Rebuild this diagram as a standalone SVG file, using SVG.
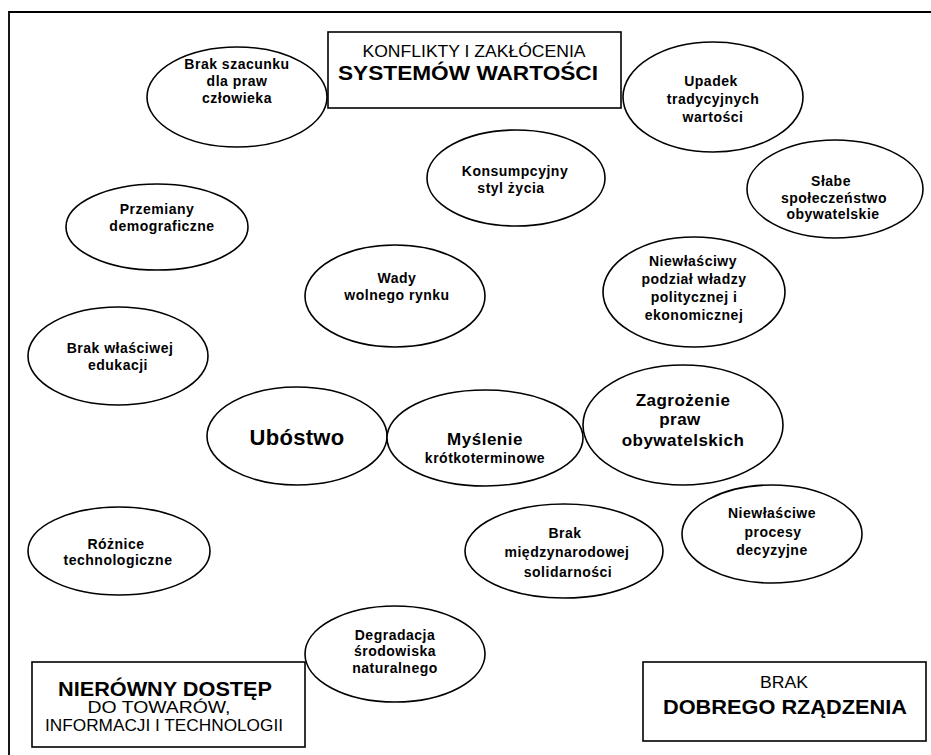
<svg xmlns="http://www.w3.org/2000/svg" width="931" height="755" viewBox="0 0 931 755">
<style>
  .e { fill: #fff; stroke: #000; stroke-width: 1.6; }
  .b { fill: #fff; stroke: #000; stroke-width: 1.6; }
  .t { font-family: "Liberation Sans", Arial, sans-serif; font-weight: bold; font-size: 14px; letter-spacing: 0.5px; text-anchor: middle; fill: #000; }
  .r { font-family: "Liberation Sans", Arial, sans-serif; font-size: 16px; text-anchor: middle; fill: #000; }
  .h { font-family: "Liberation Sans", Arial, sans-serif; font-weight: bold; font-size: 20px; text-anchor: middle; fill: #000; }
</style>
<rect width="931" height="755" fill="#fff"/>
<g id="frame" fill="none" stroke="#000" stroke-width="1.8">
  <path d="M9 755 V12 H931"/>
</g>
<g id="connectors"></g>

<g id="box-konflikty">
  <rect class="b" x="328" y="32" width="293" height="76"/>
  <text class="r" x="474" y="57" textLength="223" lengthAdjust="spacingAndGlyphs">KONFLIKTY I ZAKŁÓCENIA</text>
  <text class="h" x="468" y="80" textLength="260" lengthAdjust="spacingAndGlyphs">SYSTEMÓW WARTOŚCI</text>
</g>
<g id="box-nierowny">
  <rect class="b" x="32" y="662" width="273" height="85"/>
  <text class="h" x="165" y="696" textLength="214" lengthAdjust="spacingAndGlyphs">NIERÓWNY DOSTĘP</text>
  <text class="r" x="159" y="713" textLength="143" lengthAdjust="spacingAndGlyphs">DO TOWARÓW,</text>
  <text class="r" x="164" y="731" textLength="238" lengthAdjust="spacingAndGlyphs">INFORMACJI I TECHNOLOGII</text>
</g>
<g id="box-brak-rzadzenia">
  <rect class="b" x="643" y="662" width="283" height="79"/>
  <text class="r" x="784" y="688" textLength="48" lengthAdjust="spacingAndGlyphs">BRAK</text>
  <text class="h" x="785" y="714" textLength="244" lengthAdjust="spacingAndGlyphs">DOBREGO RZĄDZENIA</text>
</g>

<g id="n-szacunek">
  <ellipse class="e" cx="237" cy="97" rx="90" ry="50"/>
  <text class="t" x="237" y="69">Brak szacunku</text>
  <text class="t" x="237" y="86">dla praw</text>
  <text class="t" x="237" y="103">człowieka</text>
</g>
<g id="n-upadek">
  <ellipse class="e" cx="713" cy="97" rx="90" ry="55"/>
  <text class="t" x="711" y="86">Upadek</text>
  <text class="t" x="713" y="104">tradycyjnych</text>
  <text class="t" x="713" y="122">wartości</text>
</g>
<g id="n-konsumpcyjny">
  <ellipse class="e" cx="516" cy="178" rx="89" ry="48"/>
  <text class="t" x="515" y="176">Konsumpcyjny</text>
  <text class="t" x="511" y="193">styl życia</text>
</g>
<g id="n-slabe">
  <ellipse class="e" cx="835" cy="189" rx="88" ry="49"/>
  <text class="t" x="831" y="186">Słabe</text>
  <text class="t" x="834" y="203">społeczeństwo</text>
  <text class="t" x="833" y="219">obywatelskie</text>
</g>
<g id="n-przemiany">
  <ellipse class="e" cx="157" cy="227" rx="91" ry="43"/>
  <text class="t" x="157" y="214">Przemiany</text>
  <text class="t" x="162" y="231">demograficzne</text>
</g>
<g id="n-wady">
  <ellipse class="e" cx="395" cy="296" rx="90" ry="51"/>
  <text class="t" x="397" y="283">Wady</text>
  <text class="t" x="397" y="300">wolnego rynku</text>
</g>
<g id="n-podzial">
  <ellipse class="e" cx="694" cy="292" rx="91" ry="55"/>
  <text class="t" x="693" y="266">Niewłaściwy</text>
  <text class="t" x="694" y="284">podział władzy</text>
  <text class="t" x="694" y="302">politycznej i</text>
  <text class="t" x="694" y="320">ekonomicznej</text>
</g>
<g id="n-edukacja">
  <ellipse class="e" cx="118" cy="356" rx="90" ry="49"/>
  <text class="t" x="120" y="353">Brak właściwej</text>
  <text class="t" x="118" y="370">edukacji</text>
</g>
<g id="n-ubostwo">
  <ellipse class="e" cx="297" cy="436" rx="90" ry="49"/>
  <text class="t" x="297" y="445" style="font-size:22px;letter-spacing:0.3px">Ubóstwo</text>
</g>
<g id="n-myslenie">
  <ellipse class="e" cx="485" cy="438" rx="98" ry="48"/>
  <text class="t" x="485" y="445" style="font-size:17px">Myślenie</text>
  <text class="t" x="485" y="463">krótkoterminowe</text>
</g>
<g id="n-zagrozenie">
  <ellipse class="e" cx="683" cy="425" rx="100" ry="60"/>
  <text class="t" x="683" y="406" style="font-size:17px">Zagrożenie</text>
  <text class="t" x="680" y="425" style="font-size:17px">praw</text>
  <text class="t" x="683" y="446" style="font-size:17px">obywatelskich</text>
</g>
<g id="n-roznice">
  <ellipse class="e" cx="119" cy="551" rx="91" ry="44"/>
  <text class="t" x="116" y="549">Różnice</text>
  <text class="t" x="118" y="565">technologiczne</text>
</g>
<g id="n-solidarnosc">
  <ellipse class="e" cx="564" cy="551" rx="99" ry="47"/>
  <text class="t" x="565" y="538">Brak</text>
  <text class="t" x="567" y="557">międzynarodowej</text>
  <text class="t" x="568" y="577">solidarności</text>
</g>
<g id="n-procesy">
  <ellipse class="e" cx="772" cy="534" rx="90" ry="49"/>
  <text class="t" x="772" y="518">Niewłaściwe</text>
  <text class="t" x="773" y="537">procesy</text>
  <text class="t" x="772" y="555">decyzyjne</text>
</g>
<g id="n-degradacja">
  <ellipse class="e" cx="395" cy="654" rx="90" ry="48"/>
  <text class="t" x="395" y="640">Degradacja</text>
  <text class="t" x="395" y="656">środowiska</text>
  <text class="t" x="395" y="673">naturalnego</text>
</g>
</svg>
